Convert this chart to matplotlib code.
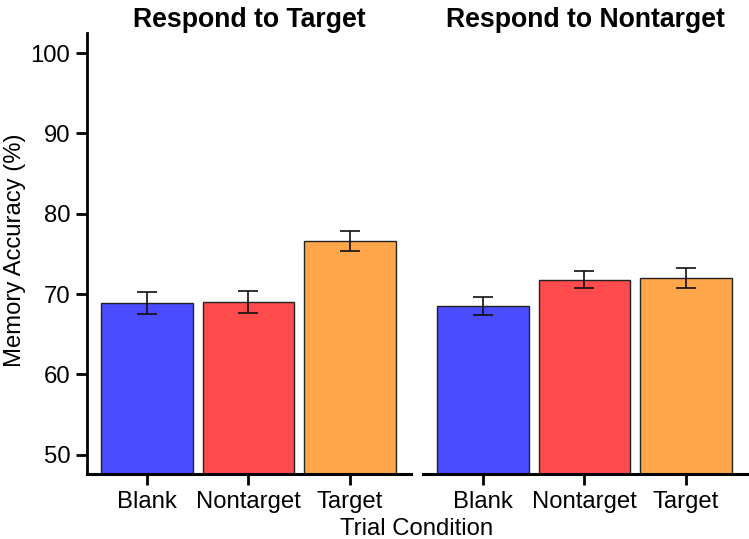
import numpy as np
import matplotlib
matplotlib.use("Agg")
import matplotlib.pyplot as plt

plt.rcParams['font.family'] = ['Liberation Sans', 'DejaVu Sans']

conditions = ['Blank', 'Nontarget', 'Target']
panels = ['Respond to Target', 'Respond to Nontarget']
accuracy = [[68.9, 69.0, 76.6],
            [68.5, 71.8, 72.0]]
sem = [[1.35, 1.35, 1.2],
       [1.1, 1.1, 1.2]]
colors = ['#4b4bff', '#ff4b4b', '#ffa64b']

W, H = 749, 539
fig = plt.figure(figsize=(W / 100, H / 100), dpi=100)

boxes = [(87, 411), (423, 747)]
top_px, bot_px = 33, 474
x = np.arange(len(conditions))
fs = 17.2

for i, (x0, x1) in enumerate(boxes):
    ax = fig.add_axes([x0 / W, 1 - bot_px / H, (x1 - x0) / W, (bot_px - top_px) / H])
    ax.bar(x, accuracy[i], width=0.9, color=colors, edgecolor='#222222', linewidth=1.0)
    ax.errorbar(x, accuracy[i], yerr=sem[i], fmt='none', ecolor='#111111',
                elinewidth=1.2, capsize=7.5, capthick=1.2)
    ax.set_ylim(47.6, 102.5)
    ax.set_xlim(-0.59, 2.6)
    ax.set_xticks(x)
    ax.set_xticklabels(conditions, fontsize=fs)
    ax.set_title(panels[i], fontsize=19.2, fontweight='bold', pad=4)
    for s in ['top', 'right']:
        ax.spines[s].set_visible(False)
    ax.spines['bottom'].set_linewidth(2.2)
    ax.spines['left'].set_linewidth(2.0)
    ax.tick_params(axis='both', direction='out', length=8, width=2, labelsize=fs, pad=4)
    ax.tick_params(axis='x', pad=4.5)
    if i == 0:
        ax.set_yticks([50, 60, 70, 80, 90, 100])
    else:
        ax.spines['left'].set_visible(False)
        ax.set_yticks([])

fig.text(15 / W, 1 - 250 / H, 'Memory Accuracy (%)', ha='center', va='center',
         rotation=90, fontsize=fs)
fig.text(417 / W, 1 - 529 / H, 'Trial Condition', ha='center', va='center', fontsize=fs)

fig.savefig('out.png', dpi=100)
